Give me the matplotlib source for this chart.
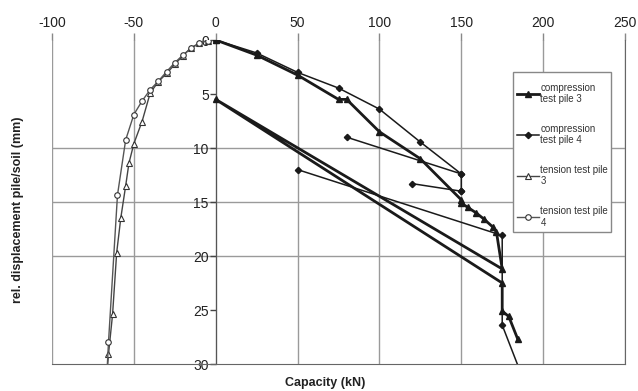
import numpy as np
import matplotlib
matplotlib.use("Agg")
import matplotlib.pyplot as plt
from matplotlib.patches import Rectangle

plt.rcParams['font.family'] = ['Liberation Sans', 'DejaVu Sans']
plt.rcParams['axes.unicode_minus'] = False

nan = np.nan

# compression test pile 3 (load kN, displacement mm)
c3_load = [0, 25, 50, 75, 80, 100, 125, 150, 150, 154, 159, 164, 169.5, 171.5, 175, 0, 175, 175, 179, 184.5]
c3_disp = [0, 1.4, 3.25, 5.5, 5.5, 8.5, 11.0, 14.8, 15.1, 15.5, 16.0, 16.6, 17.35, 17.8, 21.2, 5.5, 22.5, 25.1, 25.6, 27.7]

# compression test pile 4 (segments split by nan)
c4_load = [0, 25, 50, 75, 100, 125, 150, 150, nan, 80, 150, nan, 120, 150, nan, 50, 175, 175, 185.5]
c4_disp = [0, 1.2, 3.0, 4.45, 6.4, 9.45, 12.4, 14.0, nan, 9.0, 12.4, nan, 13.3, 14.0, nan, 12.0, 18.1, 26.4, 30.5]

# tension test pile 3
t3_load = [0, -5, -10, -15, -20, -25, -30, -35, -40, -45, -50, -53, -55, -58, -60.5, -63, -65.5, -66.5]
t3_disp = [0, 0.05, 0.3, 0.7, 1.45, 2.25, 3.1, 3.85, 4.9, 7.55, 9.6, 11.4, 13.5, 16.5, 19.7, 25.4, 29.1, 31.0]

# tension test pile 4
t4_load = [0, -5, -10, -15, -20, -25, -30, -35, -40, -45, -50, -55, -60, -65.5, -66.5]
t4_disp = [0, 0.05, 0.3, 0.77, 1.39, 2.1, 2.93, 3.8, 4.6, 5.65, 6.9, 9.25, 14.35, 28.0, 31.0]

x_ticks = [-100, -50, 0, 50, 100, 150, 200, 250]
y_ticks = [0, 5, 10, 15, 20, 25, 30]
y_grid = [10, 15, 20]

fig = plt.figure(figsize=(6.38, 3.91), dpi=100)
ax = fig.add_axes([52 / 638, 1 - 364 / 391, 573 / 638, 324 / 391])

ax.plot(c3_load, c3_disp, color='#1a1a1a', lw=2.0, marker='^', ms=4,
        mfc='#1a1a1a', mec='#1a1a1a', label='compression\ntest pile 3', zorder=4)
ax.plot(c4_load, c4_disp, color='#1a1a1a', lw=1.1, marker='D', ms=3.2,
        mfc='#1a1a1a', mec='#1a1a1a', label='compression\ntest pile 4', zorder=4)
ax.plot(t3_load, t3_disp, color='#444444', lw=1.0, marker='^', ms=4.5,
        mfc='white', mec='#333333', mew=0.8, label='tension test pile\n3', zorder=3)
ax.plot(t4_load, t4_disp, color='#555555', lw=1.0, marker='o', ms=4,
        mfc='white', mec='#333333', mew=0.8, label='tension test pile\n4', zorder=3)

ax.set_xlim(-100, 250)
ax.set_ylim(30, 0)
ax.set_xticks(x_ticks)
ax.set_yticks(y_ticks)

ax.xaxis.tick_top()
ax.tick_params(axis='x', direction='out', length=5, width=1, color='#888888',
               labelsize=10, labelcolor='#222222', pad=2)
ax.tick_params(axis='y', direction='out', length=4, width=1, color='#444444',
               labelsize=10, labelcolor='#222222', pad=1)

for x in x_ticks:
    ax.axvline(x, color='#9a9a9a', lw=1.0, zorder=1)
for y in y_grid:
    ax.axhline(y, color='#9a9a9a', lw=1.0, zorder=1)

ax.spines['top'].set_visible(False)
ax.spines['left'].set_position(('data', 0))
ax.spines['left'].set_color('#555555')
ax.spines['left'].set_zorder(2)
ax.spines['bottom'].set_color('#666666')
ax.spines['right'].set_color('#666666')

# legend frame drawn separately so the padding can differ per side
ax.add_patch(Rectangle((0.8045, 0.4074), 0.171, 0.4938, transform=ax.transAxes,
                       facecolor='white', edgecolor='#888888', lw=1.0, zorder=5))
leg = ax.legend(loc='upper left', bbox_to_anchor=(0.8115, 0.868), fontsize=7.0,
                frameon=False, handlelength=2.3, handletextpad=0.1,
                labelspacing=2.0, borderpad=0, borderaxespad=0)
leg.set_zorder(6)
for t in leg.get_texts():
    t.set_color('#333333')

fig.text(18 / 638, 0.463, 'rel. displacement pile/soil (mm)', rotation=90,
         ha='center', va='center', fontsize=9, fontweight='bold', color='#222222')
fig.text(0.51, 0.02, 'Capacity (kN)', ha='center', va='center',
         fontsize=9, fontweight='bold', color='#222222')

fig.savefig('out.png', dpi=100)
